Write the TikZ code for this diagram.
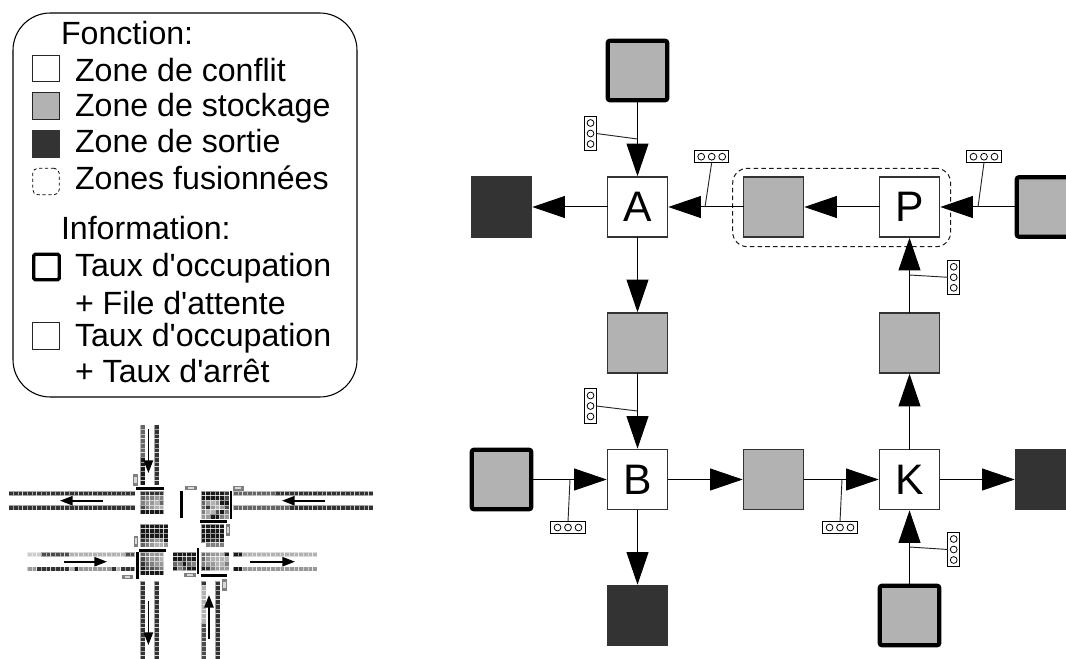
\documentclass[tikz,border=0pt]{standalone}
\usepackage{fontspec}
\setmainfont{Liberation Sans}[Ligatures=TeXOff]
\usetikzlibrary{arrows.meta,positioning}
\definecolor{stockgray}{HTML}{B2B2B2}
\definecolor{exitgray}{HTML}{333333}
\newcount\cpos
\tikzset{mcell/.style={draw=white,draw opacity=.55,line width=.4pt}}
% block of cells: x, y, rows of grey levels (0-9)
\newcommand\cellgrid[3]{\foreach \rw [count=\j from 0] in {#3}{\foreach \g [count=\i from 0] in \rw {\path[mcell,fill=black!\g0] ({#1+\i*4.67},{#2+\j*4.67}) rectangle +(4.67,4.67);}}}
% run-length road: x, y, dx, dy, runs count/grey
\newcommand\roadrun[5]{\global\cpos=0 \foreach \n/\g in {#5}{\foreach \k in {1,...,\n}{\path[mcell,fill=black!\g0] ({#1+\the\cpos*#3},{#2+\the\cpos*#4}) rectangle +(4.67,4.67);\global\advance\cpos by 1 }}}
% signal boxes with three lamps
\newcommand\sigh[3]{\node[sigbox,minimum width=34.5*.75pt,minimum height=11.5*.75pt] (#1) at (#2,#3) {};
 \foreach \d in {-10.5,0,10.5}{\draw[line width=.6pt] ({#2+\d},#3) circle[radius=3.4];}}
\newcommand\sigv[3]{\node[sigbox,minimum width=11.5*.75pt,minimum height=34.5*.75pt] (#1) at (#2,#3) {};
 \foreach \d in {-10.5,0,10.5}{\draw[line width=.6pt] (#2,{#3+\d}) circle[radius=3.4];}}
% tiny signal in the mini map
\newcommand\minisig[4]{\fill[black!50] (#1,#2) rectangle (#3,#4);
 \fill[black!15] ({#1+.25*(#3-#1)},{#2+.25*(#4-#2)}) rectangle ({#3-.25*(#3-#1)},{#4-.25*(#4-#2)});}
\tikzset{
 zone/.style={draw=black!80,line width=.8pt,minimum size=45pt,inner sep=0,outer sep=0,font=\fontsize{32pt}{32pt}\selectfont},
 conflict/.style={zone,fill=white},
 stock/.style={zone,fill=stockgray},
 exitz/.style={zone,fill=exitgray,draw=exitgray},
 stockbold/.style={stock,draw=black,line width=3.2pt,rounded corners=1.5pt,minimum size=44.5pt},
 conn/.style={draw=black,line width=.75pt,-{Triangle[length=24.5pt,width=16.5pt]},shorten >=.6pt},
 sigbox/.style={draw=black,line width=.7pt,fill=white,inner sep=0,outer sep=0},
 sigline/.style={draw=black!85,line width=.7pt},
 merged/.style={draw=black!90,line width=.75pt,dash pattern=on 3.4pt off 2.4pt,rounded corners=11pt,inner sep=0,outer sep=0},
 legendbox/.style={draw=black,line width=.8pt,rounded corners=28pt,inner sep=0,outer sep=0,minimum width=258pt,minimum height=288pt},
 swatch/.style={draw=black!85,line width=.6pt,minimum size=20pt,inner sep=0,outer sep=0},
 lab/.style={anchor=base west,inner sep=0,outer sep=0,font=\fontsize{24.1pt}{24.1pt}\selectfont},
 bar/.style={line width=1.9pt,black},
 miniarrow/.style={line width=1.2pt,-{Triangle[length=9.5pt,width=7pt]}},
}
\begin{document}
\begin{tikzpicture}[x=.75pt,y=-.75pt]
\useasboundingbox (0,0) rectangle (1066,659);
\clip (0,0) rectangle (1066,659);
% legend
\node[legendbox] (legend) at (185,205) {};
\node[lab] (tF) at (61,45) {Fonction:};
\node[swatch,fill=white] (s1) at (46,68.5) {};
\node[lab] (t1) at (75,81.5) {Zone de conflit};
\node[swatch,fill=stockgray] (s2) at (46,106) {};
\node[lab] (t2) at (75,117) {Zone de stockage};
\node[swatch,fill=exitgray,draw=exitgray] (s3) at (46,144) {};
\node[lab] (t3) at (75,153) {Zone de sortie};
\node[swatch,draw=black,rounded corners=4pt,dash pattern=on 2.4pt off 2pt] (s4) at (46,181.5) {};
\node[lab] (t4) at (75,190) {Zones fusionnées};
\node[lab] (tI) at (61,239) {Information:};
\node[swatch,draw=black,line width=2.4pt,minimum size=19pt,rounded corners=1pt] (s5) at (46.5,267) {};
\node[lab] (t5) at (75,276) {Taux d'occupation};
\node[lab] (t6) at (75,314) {+ File d'attente};
\node[swatch,fill=white] (s6) at (46,336) {};
\node[lab] (t7) at (75,346) {Taux d'occupation};
\node[lab] (t8) at (75,382.5) {+ Taux d'arrêt};
% mini map roads
\roadrun{8.7}{491}{4.67}{0}{27/8}
\roadrun{8.7}{505.3}{4.67}{0}{27/8}
\roadrun{233.3}{491}{4.67}{0}{9/6,21/8}
\roadrun{233.3}{505.3}{4.67}{0}{12/6,18/8}
\roadrun{27.3}{552}{4.67}{0}{3/2,6/7,12/3,2/7}
\roadrun{27.3}{566.7}{4.67}{0}{2/4,7/8,1/3,1/9,7/4,1/8,1/3,3/8}
\roadrun{233.3}{552}{4.67}{0}{2/9,16/3}
\roadrun{233.3}{566.7}{4.67}{0}{2/9,16/4}
\roadrun{140.3}{424.5}{0}{4.67}{7/6,6/9}
\roadrun{154.3}{424.5}{0}{4.67}{13/8}
\roadrun{140.3}{581}{0}{4.67}{17/8}
\roadrun{154.3}{581}{0}{4.67}{17/8}
\roadrun{201.3}{581}{0}{4.67}{1/8,8/3,8/7}
\roadrun{215.3}{581}{0}{4.67}{17/8}
% mini map blocks
\cellgrid{140.3}{491}{{8,8,8,8,8},{6,5,5,4,5},{5,4,4,3,6},{7,5,4,3,3},{9,9,9,9,9}}
\cellgrid{201}{491}{{9,9,9,9,9,8},{9,9,9,9,9,7},{6,4,3,4,9,9},{6,8,4,3,4,7},{5,3,3,7,9,5},{4,4,9,9,5,4}}
\cellgrid{201}{524}{{9,9,9,9,9},{9,9,9,9,9},{9,9,9,9,9},{9,9,8,8,9}}
\cellgrid{205.67}{542.7}{{5,5,5,5}}
\cellgrid{140.3}{524}{{9,9,9,9,9,9},{9,9,9,9,9,9},{9,9,9,9,9,9},{8,7,5,4,5,9},{6,5,4,3,3,4}}
\cellgrid{140.3}{552}{{6,5,4,4,4},{7,5,4,4,3},{8,6,5,4,4},{9,7,7,6,5},{9,9,9,9,9}}
\cellgrid{172.7}{552}{{9,9,9,9,9},{9,9,8,8,9},{6,5,9,6,5},{9,5,7,9,9}}
\cellgrid{201}{552}{{6,5,4,4,3,9},{6,4,3,3,3,3},{5,4,4,3,3,5},{9,8,5,4,4,4}}
% mini map bars
\draw[bar] (136,488.7) -- (164,488.7);
\draw[bar] (181.7,491) -- (181.7,518);
\draw[bar] (231,491) -- (231,519);
\draw[bar] (200,521.7) -- (227,521.7);
\draw[bar] (139,550.3) -- (166,550.3);
\draw[bar] (137.3,552) -- (137.3,579);
\draw[bar] (198,548) -- (198,574);
\draw[bar] (200.7,575.7) -- (227.3,575.7);
% mini map signals
\minisig{133.3}{474}{137.6}{486}
\minisig{185}{486}{197}{490.3}
\minisig{232.5}{486}{244}{490.5}
\minisig{226}{524}{230}{536}
\minisig{134}{535.5}{138.3}{547}
\minisig{122}{574.5}{133}{579}
\minisig{184}{572.7}{195.5}{577}
\minisig{222}{579}{227}{591}
% mini map arrows
\draw[miniarrow] (148.4,429) -- (148.4,473);
\draw[miniarrow] (103,500.7) -- (60,500.7);
\draw[miniarrow] (325,500.7) -- (282,500.7);
\draw[miniarrow] (64,561.7) -- (107,561.7);
\draw[miniarrow] (250,561.7) -- (295,561.7);
\draw[miniarrow] (148.4,601) -- (148.4,645);
\draw[miniarrow] (209,639) -- (209,595);
% network
\node[merged,minimum width=163.5pt,minimum height=58.8pt] (merge) at (841.7,207.5) {};
\node[stockbold] (N) at (637.5,70.5) {};
\node[exitz] (W1) at (501.5,207) {};
\node[conflict] (A) at (637.5,207) {A};
\node[stock] (M) at (773.5,207) {};
\node[conflict] (P) at (909.5,207) {P};
\node[stockbold] (E1) at (1046.5,207) {};
\node[stock] (AB) at (637.5,343) {};
\node[stock] (KP) at (909.5,343) {};
\node[stockbold] (W2) at (501.5,479.5) {};
\node[conflict] (B) at (637.5,479.5) {B};
\node[stock] (BK) at (773.5,479.5) {};
\node[conflict] (K) at (909.5,479.5) {K};
\node[exitz] (E2) at (1045.5,479.5) {};
\node[exitz] (S1) at (637.5,615.5) {};
\node[stockbold] (S2) at (909.5,615.5) {};
\foreach \a/\b in {N/A,A/W1,A/AB,AB/B,B/S1,W2/B,B/BK,BK/K,K/E2,S2/K,K/KP,KP/P,E1/P,P/M,M/A}{\draw[conn] (\a) -- (\b);}
% signals
\coordinate (c1) at (637.5,139);
\coordinate (c2) at (705,207);
\coordinate (c3) at (978,207);
\coordinate (c4) at (909.5,275);
\coordinate (c5) at (637.5,411);
\coordinate (c6) at (570,479.5);
\coordinate (c7) at (842,479.5);
\coordinate (c8) at (909.5,547);
\sigv{sig1}{590.5}{133.5}
\sigh{sig2}{711.7}{156.7}
\sigh{sig3}{984}{156.7}
\sigv{sig4}{953.7}{277.3}
\sigv{sig5}{590.5}{406}
\sigh{sig6}{568}{527.5}
\sigh{sig7}{840}{527.5}
\sigv{sig8}{953.7}{549.5}
\draw[sigline] (sig1.east) -- (c1);
\draw[sigline] (sig2.south) -- (c2);
\draw[sigline] (sig3.south) -- (c3);
\draw[sigline] (sig4.west) -- (c4);
\draw[sigline] (sig5.east) -- (c5);
\draw[sigline] (sig6.north) -- (c6);
\draw[sigline] (sig7.north) -- (c7);
\draw[sigline] (sig8.west) -- (c8);
\end{tikzpicture}
\end{document}
